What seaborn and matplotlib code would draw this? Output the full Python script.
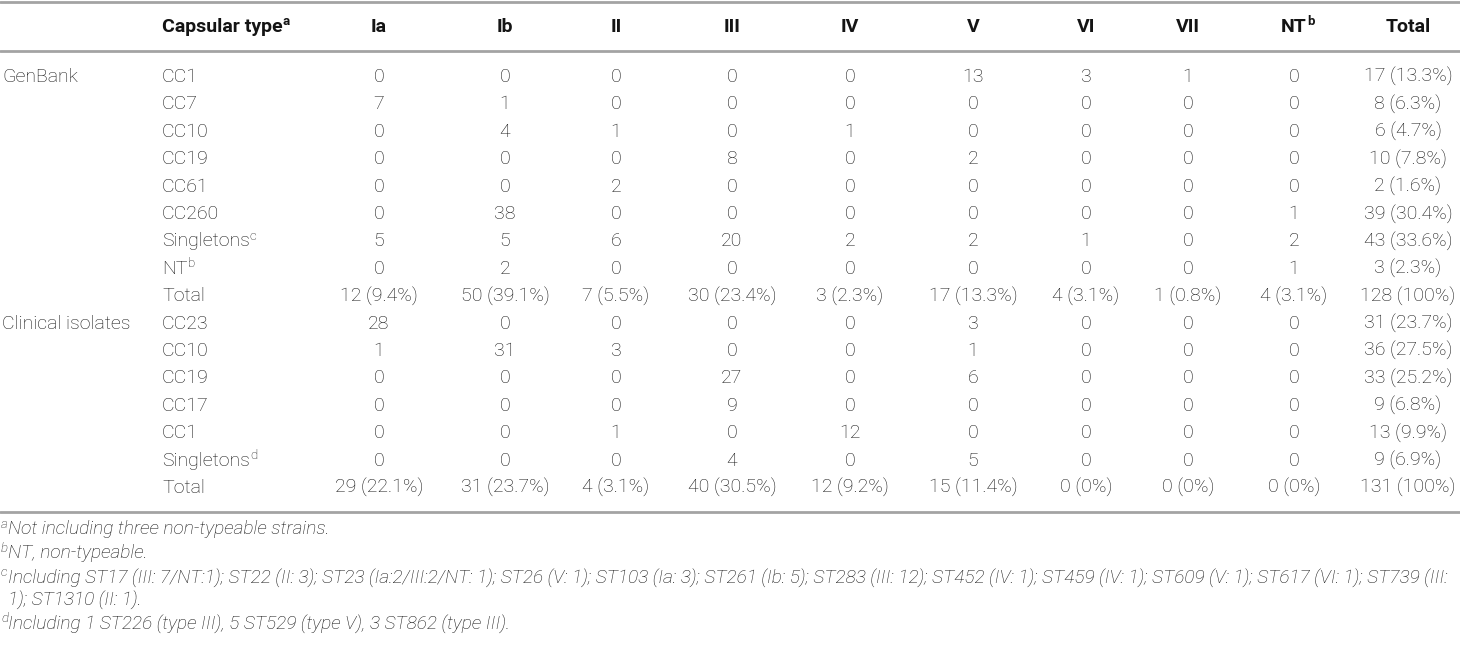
import matplotlib
matplotlib.use("Agg")
import matplotlib.pyplot as plt
import seaborn as sns

# Table contents
types = ["Ia", "Ib", "II", "III", "IV", "V", "VI", "VII", "NT"]
type_sup = {"NT": "b"}

genbank_rows = ["CC1", "CC7", "CC10", "CC19", "CC61", "CC260", "Singletons", "NT"]
genbank_sup = {"Singletons": "c", "NT": "b"}
genbank_counts = [
    [0, 0, 0, 0, 0, 13, 3, 1, 0],
    [7, 1, 0, 0, 0, 0, 0, 0, 0],
    [0, 4, 1, 0, 1, 0, 0, 0, 0],
    [0, 0, 0, 8, 0, 2, 0, 0, 0],
    [0, 0, 2, 0, 0, 0, 0, 0, 0],
    [0, 38, 0, 0, 0, 0, 0, 0, 1],
    [5, 5, 6, 20, 2, 2, 1, 0, 2],
    [0, 2, 0, 0, 0, 0, 0, 0, 1],
]
genbank_row_total = ["17 (13.3%)", "8 (6.3%)", "6 (4.7%)", "10 (7.8%)", "2 (1.6%)",
                     "39 (30.4%)", "43 (33.6%)", "3 (2.3%)"]
genbank_col_total = ["12 (9.4%)", "50 (39.1%)", "7 (5.5%)", "30 (23.4%)", "3 (2.3%)",
                     "17 (13.3%)", "4 (3.1%)", "1 (0.8%)", "4 (3.1%)", "128 (100%)"]

clinical_rows = ["CC23", "CC10", "CC19", "CC17", "CC1", "Singletons"]
clinical_sup = {"Singletons": "d"}
clinical_counts = [
    [28, 0, 0, 0, 0, 3, 0, 0, 0],
    [1, 31, 3, 0, 0, 1, 0, 0, 0],
    [0, 0, 0, 27, 0, 6, 0, 0, 0],
    [0, 0, 0, 9, 0, 0, 0, 0, 0],
    [0, 0, 1, 0, 12, 0, 0, 0, 0],
    [0, 0, 0, 4, 0, 5, 0, 0, 0],
]
clinical_row_total = ["31 (23.7%)", "36 (27.5%)", "33 (25.2%)", "9 (6.8%)", "13 (9.9%)", "9 (6.9%)"]
clinical_col_total = ["29 (22.1%)", "31 (23.7%)", "4 (3.1%)", "40 (30.5%)", "12 (9.2%)",
                      "15 (11.4%)", "0 (0%)", "0 (0%)", "0 (0%)", "131 (100%)"]

footnotes = [
    ("a", "Not including three non-typeable strains."),
    ("b", "NT, non-typeable."),
    ("c", "Including ST17 (III: 7/NT:1); ST22 (II: 3); ST23 (Ia:2/III:2/NT: 1); ST26 (V: 1); "
          "ST103 (Ia: 3); ST261 (Ib: 5); ST283 (III: 12); ST452 (IV: 1); ST459 (IV: 1); "
          "ST609 (V: 1); ST617 (VI: 1); ST739 (III:"),
    (None, "1); ST1310 (II: 1)."),
    ("d", "Including 1 ST226 (type III), 5 ST529 (type V), 3 ST862 (type III)."),
]

sns.set_theme(style="white")
plt.rcParams["font.family"] = ["Roboto", "Liberation Sans", "DejaVu Sans"]

txt = "#141414"
rule = "#a3a3a3"
fs = 14

fig = plt.figure(figsize=(14.6, 6.47), dpi=100)
ax = fig.add_axes([0, 0, 1, 1])
ax.set_xlim(0, 1460)
ax.set_ylim(647, 0)
ax.axis("off")

# column layout (pixels)
x_group = 2
x_cap = 162
col_x = [379, 505, 616, 732, 850, 973, 1086, 1188, 1294, 1408]
y_head = 27
y_first = 77
dy = 27.4


def put(x, y, s, sup=None, ha="center", weight="light", size=fs):
    t = ax.text(x, y, s, ha=ha, va="center", color=txt, fontsize=size,
                fontweight=weight)
    if sup:
        ax.annotate(sup, xy=(1.0, 0.8), xycoords=t, ha="left", va="center",
                    color=txt, fontsize=size * 0.68, fontweight=weight)
    return t


# rules
ax.axhline(2, color=rule, lw=2)
ax.axhline(51, color=rule, lw=2)
ax.axhline(512, color=rule, lw=2)

# header
put(x_cap, y_head, "Capsular type", sup="a", ha="left", weight="bold")
for x, name in zip(col_x, types + ["Total"]):
    put(x, y_head, name, sup=type_sup.get(name), weight="bold")


def block(y0, group, rows, sups, counts, row_tot, col_tot):
    put(x_group, y0, group, ha="left")
    for i, (name, vals, tot) in enumerate(zip(rows, counts, row_tot)):
        y = y0 + i * dy
        put(x_cap, y, name, sup=sups.get(name), ha="left")
        for x, v in zip(col_x, vals):
            put(x, y, str(v))
        put(col_x[-1], y, tot)
    y = y0 + len(rows) * dy
    put(x_cap, y, "Total", ha="left")
    for x, v in zip(col_x, col_tot):
        put(x, y, v)
    return y + dy


y_next = block(y_first, "GenBank", genbank_rows, genbank_sup, genbank_counts,
               genbank_row_total, genbank_col_total)
block(y_next, "Clinical isolates", clinical_rows, clinical_sup, clinical_counts,
      clinical_row_total, clinical_col_total)

# footnotes
foot_y = [529, 553, 578, 601, 624]
for (sup, note), y in zip(footnotes, foot_y):
    if sup:
        ax.text(1, y - 5, sup, ha="left", va="center", color=txt, fontsize=fs * 0.68,
                fontstyle="italic", fontweight="light")
    ax.text(8, y, note, ha="left", va="center", color=txt, fontsize=13.8,
            fontstyle="italic", fontweight="light")

fig.savefig("out.png", dpi=100)
